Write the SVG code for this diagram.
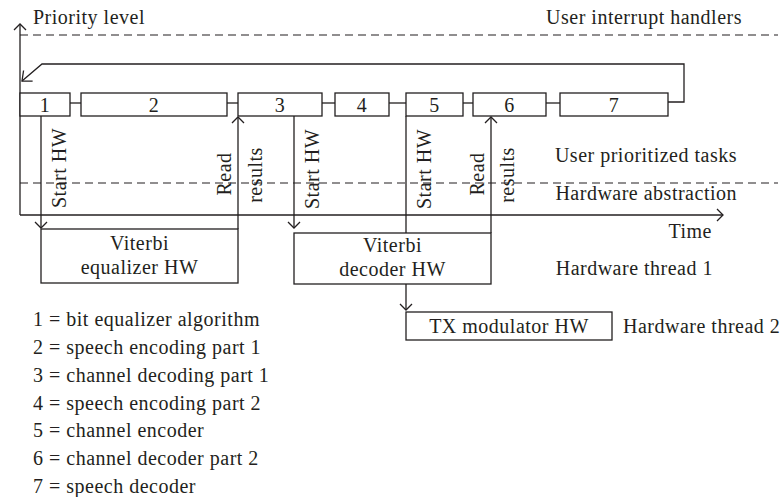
<svg xmlns="http://www.w3.org/2000/svg" width="782" height="497" viewBox="0 0 782 497">
  <style>
    text { font-family: "Liberation Serif", "Times New Roman", serif; font-size: 20px; letter-spacing: 0.5px; fill: #231f20; }
    .mid { text-anchor: middle; }
    .box { fill: #ffffff; stroke: #231f20; stroke-width: 1.3; }
    .ln { fill: none; stroke: #231f20; stroke-width: 1.3; }
    .dash { fill: none; stroke: #231f20; stroke-width: 1.2; stroke-dasharray: 8 5; }
  </style>
  <defs>
    <marker id="arr" markerUnits="userSpaceOnUse" markerWidth="16" markerHeight="16" viewBox="-8 -8 16 16" refX="0" refY="0" orient="auto">
      <path d="M-6,-6 L0,0 L-6,6" fill="none" stroke="#231f20" stroke-width="1.3"/>
    </marker>
    <marker id="arrL" markerUnits="userSpaceOnUse" markerWidth="20" markerHeight="20" viewBox="-10 -10 20 20" refX="0" refY="0" orient="auto">
      <path d="M-8,-7 L0,0 L-8,7" fill="none" stroke="#231f20" stroke-width="1.3"/>
    </marker>
  </defs>
  <rect width="782" height="497" fill="#ffffff"/>

  <!-- layer dividers and axes -->
  <g id="axes">
    <line class="dash" x1="20" y1="35" x2="778" y2="35"/>
    <line class="dash" x1="20" y1="183" x2="778" y2="183"/>
    <line class="ln" x1="20" y1="215" x2="20" y2="24" marker-end="url(#arr)"/>
    <line class="ln" x1="20" y1="215" x2="723" y2="215" marker-end="url(#arr)"/>
  </g>

  <g id="layer-labels">
    <text x="33" y="24">Priority level</text>
    <text x="742" y="24" text-anchor="end">User interrupt handlers</text>
    <text x="737" y="162" text-anchor="end">User prioritized tasks</text>
    <text x="737" y="200" text-anchor="end">Hardware abstraction</text>
    <text x="712" y="238" text-anchor="end">Time</text>
    <text x="713" y="275" text-anchor="end">Hardware thread 1</text>
    <text x="623" y="333">Hardware thread 2</text>
  </g>

  <!-- connectors -->
  <g id="connectors">
    <line class="ln" x1="70" y1="103" x2="81" y2="103"/>
    <line class="ln" x1="227" y1="103" x2="238" y2="103"/>
    <line class="ln" x1="322" y1="103" x2="335" y2="103"/>
    <line class="ln" x1="389" y1="103" x2="406" y2="103"/>
    <line class="ln" x1="463" y1="103" x2="473" y2="103"/>
    <line class="ln" x1="546" y1="103" x2="560" y2="103"/>
    <polyline class="ln" points="668,102 684,102 684,64 42,64 22,81" marker-end="url(#arrL)"/>
    <!-- Start HW 1 -->
    <line class="ln" x1="41" y1="116" x2="41" y2="228" marker-end="url(#arr)"/>
    <!-- Read results 1 -->
    <line class="ln" x1="238" y1="229" x2="238" y2="117" marker-end="url(#arr)"/>
    <!-- Start HW 2 -->
    <line class="ln" x1="294" y1="116" x2="294" y2="228" marker-end="url(#arr)"/>
    <!-- Start HW 3 -->
    <line class="ln" x1="406" y1="116" x2="406" y2="233"/>
    <line class="ln" x1="406" y1="284" x2="406" y2="310" marker-end="url(#arr)"/>
    <!-- Read results 2 -->
    <line class="ln" x1="491" y1="233" x2="491" y2="117" marker-end="url(#arr)"/>
  </g>

  <g id="connector-labels">
    <text class="mid" transform="translate(66,168) rotate(-90)">Start HW</text>
    <text class="mid" transform="translate(231,174) rotate(-90)">Read</text>
    <text class="mid" transform="translate(262,175) rotate(-90)">results</text>
    <text class="mid" transform="translate(319,169) rotate(-90)">Start HW</text>
    <text class="mid" transform="translate(431,169) rotate(-90)">Start HW</text>
    <text class="mid" transform="translate(484,174) rotate(-90)">Read</text>
    <text class="mid" transform="translate(514,175) rotate(-90)">results</text>
  </g>

  <!-- tasks -->
  <g id="task1"><rect class="box" x="20" y="93" width="50" height="23"/><text class="mid" x="45" y="112">1</text></g>
  <g id="task2"><rect class="box" x="81" y="93" width="146" height="23"/><text class="mid" x="154" y="112">2</text></g>
  <g id="task3"><rect class="box" x="238" y="93" width="84" height="23"/><text class="mid" x="280" y="112">3</text></g>
  <g id="task4"><rect class="box" x="335" y="93" width="54" height="23"/><text class="mid" x="362" y="112">4</text></g>
  <g id="task5"><rect class="box" x="406" y="93" width="57" height="23"/><text class="mid" x="434.5" y="112">5</text></g>
  <g id="task6"><rect class="box" x="473" y="93" width="73" height="23"/><text class="mid" x="509.5" y="112">6</text></g>
  <g id="task7"><rect class="box" x="560" y="93" width="108" height="23"/><text class="mid" x="614" y="112">7</text></g>

  <!-- hardware -->
  <g id="viterbi-equalizer">
    <rect class="box" x="41" y="229" width="197" height="54"/>
    <text class="mid" x="139.5" y="250">Viterbi</text>
    <text class="mid" x="139.5" y="274">equalizer HW</text>
  </g>
  <g id="viterbi-decoder">
    <rect class="box" x="294" y="233" width="197" height="51"/>
    <text class="mid" x="392.5" y="252">Viterbi</text>
    <text class="mid" x="392.5" y="276">decoder HW</text>
  </g>
  <g id="tx-modulator">
    <rect class="box" x="406" y="312" width="206" height="28"/>
    <text class="mid" x="509" y="333">TX modulator HW</text>
  </g>

  <!-- legend -->
  <g id="legend">
    <text x="33" y="326">1 = bit equalizer algorithm</text>
    <text x="33" y="354">2 = speech encoding part 1</text>
    <text x="33" y="382">3 = channel decoding part 1</text>
    <text x="33" y="410">4 = speech encoding part 2</text>
    <text x="33" y="437">5 = channel encoder</text>
    <text x="33" y="465">6 = channel decoder part 2</text>
    <text x="33" y="493">7 = speech decoder</text>
  </g>
</svg>
